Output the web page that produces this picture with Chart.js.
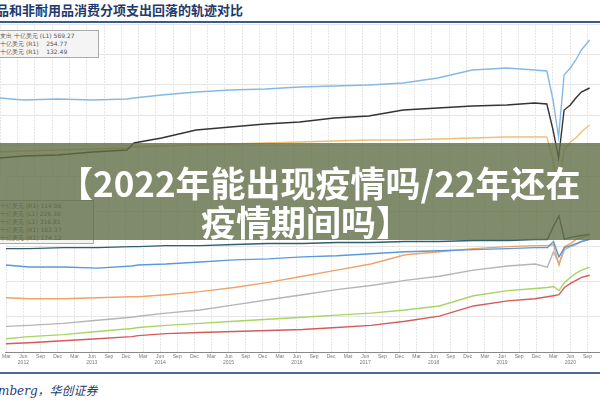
<!DOCTYPE html>
<html><head><meta charset="utf-8">
<script src="https://cdn.jsdelivr.net/npm/chart.js@4"></script>
<style>
body{margin:0;width:600px;height:400px;background:#fff;position:relative;overflow:hidden;font-family:"Noto Sans CJK SC",sans-serif}
#title{position:absolute;left:-4px;top:0;font-size:13px;font-weight:bold;color:#1f3a6e;white-space:nowrap}
#rule{position:absolute;left:0;top:21px;width:600px;height:2px;background:#3a5a8c}
#rule2{position:absolute;left:0;top:372px;width:600px;height:2px;background:#4a6a95}
#c1{position:absolute;left:0;top:24px}
#c2{position:absolute;left:0;top:176px}
.leg{position:absolute;left:-4px;background:#f4f4f4;border:1px solid #aaa;font-size:6px;color:#555;line-height:8px;padding:1px 3px;font-family:"DejaVu Sans"}
#banner{position:absolute;left:0;top:143px;width:600px;height:97px;background:rgba(95,110,70,0.8);color:#fff;font-weight:bold;font-size:35px}
#l1{position:absolute;left:58px;top:20px;white-space:nowrap;line-height:38px}
#l2{position:absolute;left:201px;top:59px;white-space:nowrap;line-height:38px}
#src{position:absolute;left:-2px;top:381px;font-size:12px;font-style:italic;color:#1f3a6e;font-family:"DejaVu Serif","Noto Sans CJK SC"}
</style></head><body>
<div id="title">品和非耐用品消费分项支出回落的轨迹对比</div>
<div id="rule"></div>
<canvas id="c1" width="600" height="152"></canvas>
<canvas id="c2" width="600" height="192"></canvas>
<div class="leg" style="top:30px;width:95px">支出 十亿美元 (L1) 569.27<br>十亿美元 (R1) &nbsp;&nbsp;&nbsp;254.77<br>十亿美元 (R1) &nbsp;&nbsp;&nbsp;132.49</div>
<div class="leg" style="top:200px;width:90px">十亿美元 (R1) 114.96<br>十亿美元 (L1) 226.30<br>十亿美元 (L1) 316.81<br>十亿美元 (R1) 163.37<br>十亿美元 (R1) 174.12</div>
<div id="banner"><div id="l1">【2022年能出现疫情吗/22年还在</div><div id="l2">疫情期间吗】</div></div>
<div id="rule2"></div>
<div id="src">mberg，华创证券</div>
<script>
const xs=[2012.16,2012.5,2013,2013.5,2014,2014.1,2014.5,2015,2015.5,2016,2016.5,2017,2017.5,2018,2018.5,2019,2019.5,2019.9,2020.08,2020.17,2020.25,2020.33,2020.42,2020.5,2020.58,2020.7];
// top panel
const blue=[302,300,301,300,301,302,305,308,310,311,313,314,315,317,322,330,332,330,329,300,263,325,332,340,350,360];
const black=[242,244,245,248,250,257,262,270,273,276,278,282,284,290,292,294,295,297,296,270,242,290,295,302,308,312];
const orange=[248,249,250,251,252,253,254,255,256,257,258,259,260,260,261,262,263,263,263,240,210,250,258,262,268,275];
// bottom panel
const teal=[153,153,154,154,155,155,156,156,157,158,158,159,159,160,160,161,161,162,162,175,185,162,164,165,166,167];
const blue2=[137,135,135,134,136,137,138,140,142,143,145,146,148,150,151,152,153,154,154,160,145,154,156,158,160,162];
const orange2=[105,104,104,105,106,106,108,111,115,120,126,132,138,147,150,153,155,156,156,157,137,155,158,162,164,166];
const gray2=[77,78,80,83,86,87,90,93,98,103,108,113,117,122,126,132,136,138,135,150,138,152,155,157,160,162];
const green2=[65,67,69,72,75,76,78,80,82,84,86,88,90,93,97,107,112,114,115,116,112,120,125,129,132,135];
const red2=[60,61,63,65,67,68,70,71,72,73,74,76,78,82,87,97,102,104,106,107,108,115,119,122,125,127];
const monthNames=['Mar','Jun','Sep','Dec'];
const monthOff=[2/12,5/12,8/12,11/12];
function ds(data,color){return {data:data.map((v,i)=>({x:xs[i],y:v})),borderColor:color,borderWidth:1.4,pointRadius:0,tension:0};}
function xScale(show){return {type:'linear',min:2012.16,max:2020.85,
  afterBuildTicks:ax=>{const t=[];for(let y=2012;y<=2020;y++)for(let q=0;q<4;q++){const v=y+monthOff[q];if(v>=2012.16&&v<=2020.85)t.push({value:v,label:q==1?[monthNames[q],String(y)]:monthNames[q]});}ax.ticks=t;},
  grid:{color:'#e6e6e6',drawTicks:false},border:{display:show,color:'#888',dash:[2,1]},
  ticks:{display:show,font:{size:5},color:'#777',padding:2,maxRotation:0,autoSkip:false,
   callback:(v,i,t)=>t[i].label}};}
function yScale(min,max){return {min,max,ticks:{display:false,stepSize:(max-min)/5},grid:{color:'#e6e6e6',drawTicks:false},border:{display:false}};}
const common={responsive:false,animation:false,plugins:{legend:{display:false},tooltip:{enabled:false}},layout:{padding:0}};
new Chart(document.getElementById('c1'),{type:'line',data:{datasets:[ds(blue,'#86b9e2'),ds(black,'#333'),ds(orange,'#efc070')]},
 options:{...common,scales:{x:xScale(false),y:yScale(224,376)}}});
new Chart(document.getElementById('c2'),{type:'line',data:{datasets:[ds(teal,'#2f5f6e'),ds(blue2,'#5a9ad8'),ds(orange2,'#eea36a'),ds(gray2,'#b5b5b5'),ds(green2,'#a8d464'),ds(red2,'#d65a5a')]},
 options:{...common,scales:{x:xScale(true),y:yScale(52,224)}}});
</script>
</body></html>
